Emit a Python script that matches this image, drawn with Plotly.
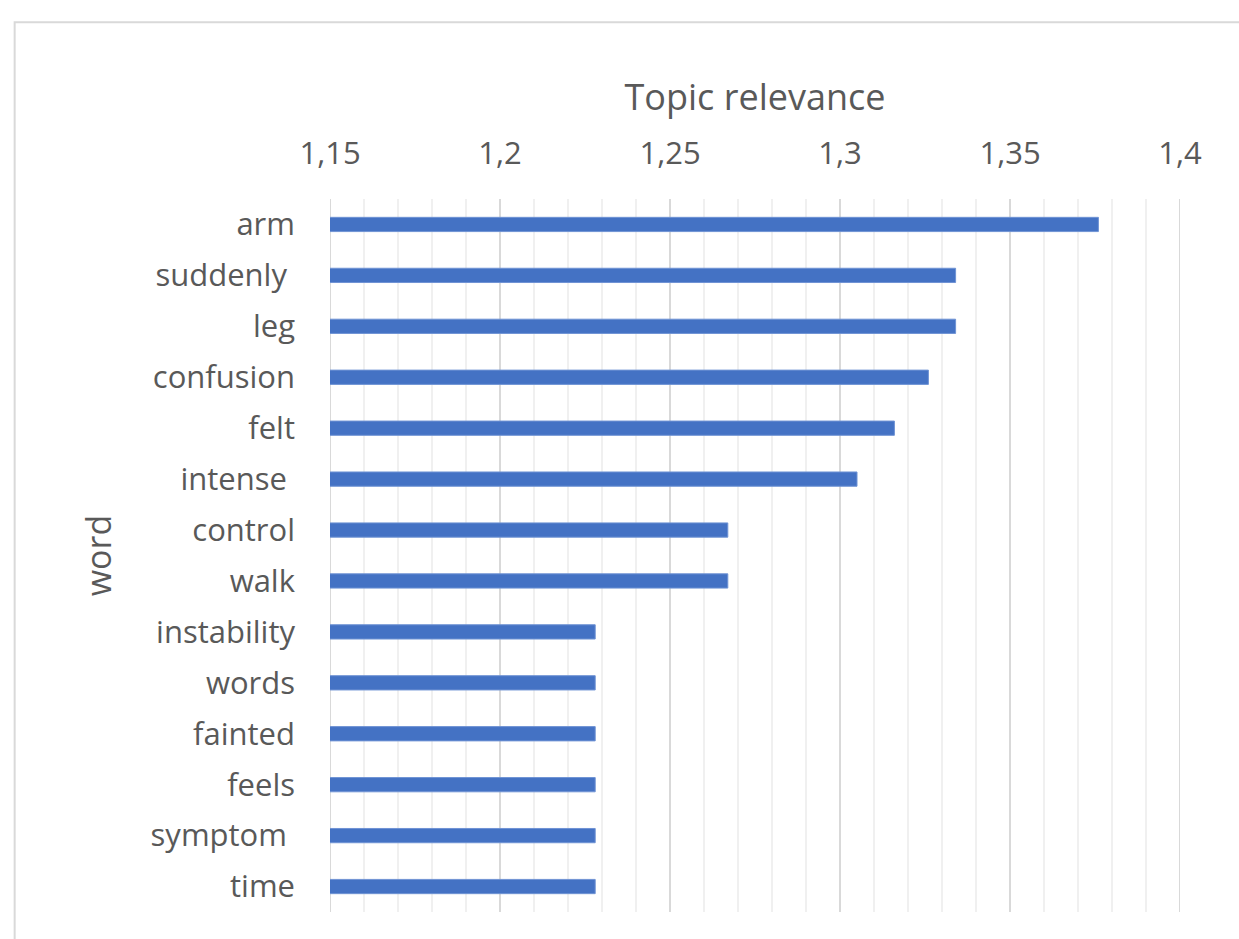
import plotly.graph_objects as go

# Words (top to bottom) and their topic relevance scores
words = ["arm", "suddenly\u00a0", "leg", "confusion", "felt", "intense\u00a0", "control",
         "walk", "instability", "words", "fainted", "feels", "symptom\u00a0", "time"]
relevance = [1.376, 1.334, 1.334, 1.326, 1.316, 1.305, 1.267,
             1.267, 1.228, 1.228, 1.228, 1.228, 1.228, 1.228]

x_range = [1.15, 1.4]

TEXT = "#595959"
FONT = "Open Sans, Segoe UI, sans-serif"
MAJOR = "#D9D9D9"

fig = go.Figure(go.Bar(
    x=relevance,
    y=words,
    orientation="h",
    marker=dict(color="#4472C4", line=dict(color="#6F93D4", width=1)),
    hoverinfo="x+y",
))

fig.update_layout(
    width=1239,
    height=939,
    margin=dict(l=330, r=59, t=199, b=27),
    paper_bgcolor="white",
    plot_bgcolor="white",
    separators=", ",
    bargap=0.72,
    showlegend=False,
    font=dict(family=FONT, color=TEXT, size=31),
    xaxis=dict(
        side="top",
        range=x_range,
        tick0=1.15,
        dtick=0.05,
        showgrid=True,
        gridcolor=MAJOR,
        gridwidth=2,
        minor=dict(dtick=0.01, showgrid=True, gridcolor="#F0F0F0", gridwidth=2),
        zeroline=False,
        showline=False,
        ticks="",
        ticklabelstandoff=28,
        tickfont=dict(size=31, color=TEXT),
        title=dict(text="Topic relevance", font=dict(size=36, color=TEXT), standoff=9),
    ),
    yaxis=dict(
        type="category",
        categoryorder="array",
        categoryarray=words,
        autorange="reversed",
        showgrid=False,
        zeroline=False,
        showline=False,
        ticks="",
        ticklabelstandoff=34,
        tickfont=dict(size=31, color=TEXT),
        title=dict(text="word", font=dict(size=34, color=TEXT), standoff=28),
    ),
)

# Major grid lines at both ends of the value axis
for edge in x_range:
    fig.add_shape(type="line", xref="x", yref="paper", x0=edge, x1=edge, y0=0, y1=1,
                  line=dict(color=MAJOR, width=2), layer="below")

# Light frame around the chart area
fig.add_shape(type="rect", xref="paper", yref="paper",
              x0=-0.371, x1=1.2, y0=-0.1, y1=1.248,
              line=dict(color=MAJOR, width=2), fillcolor="rgba(0,0,0,0)")

fig.write_html("out.html")
